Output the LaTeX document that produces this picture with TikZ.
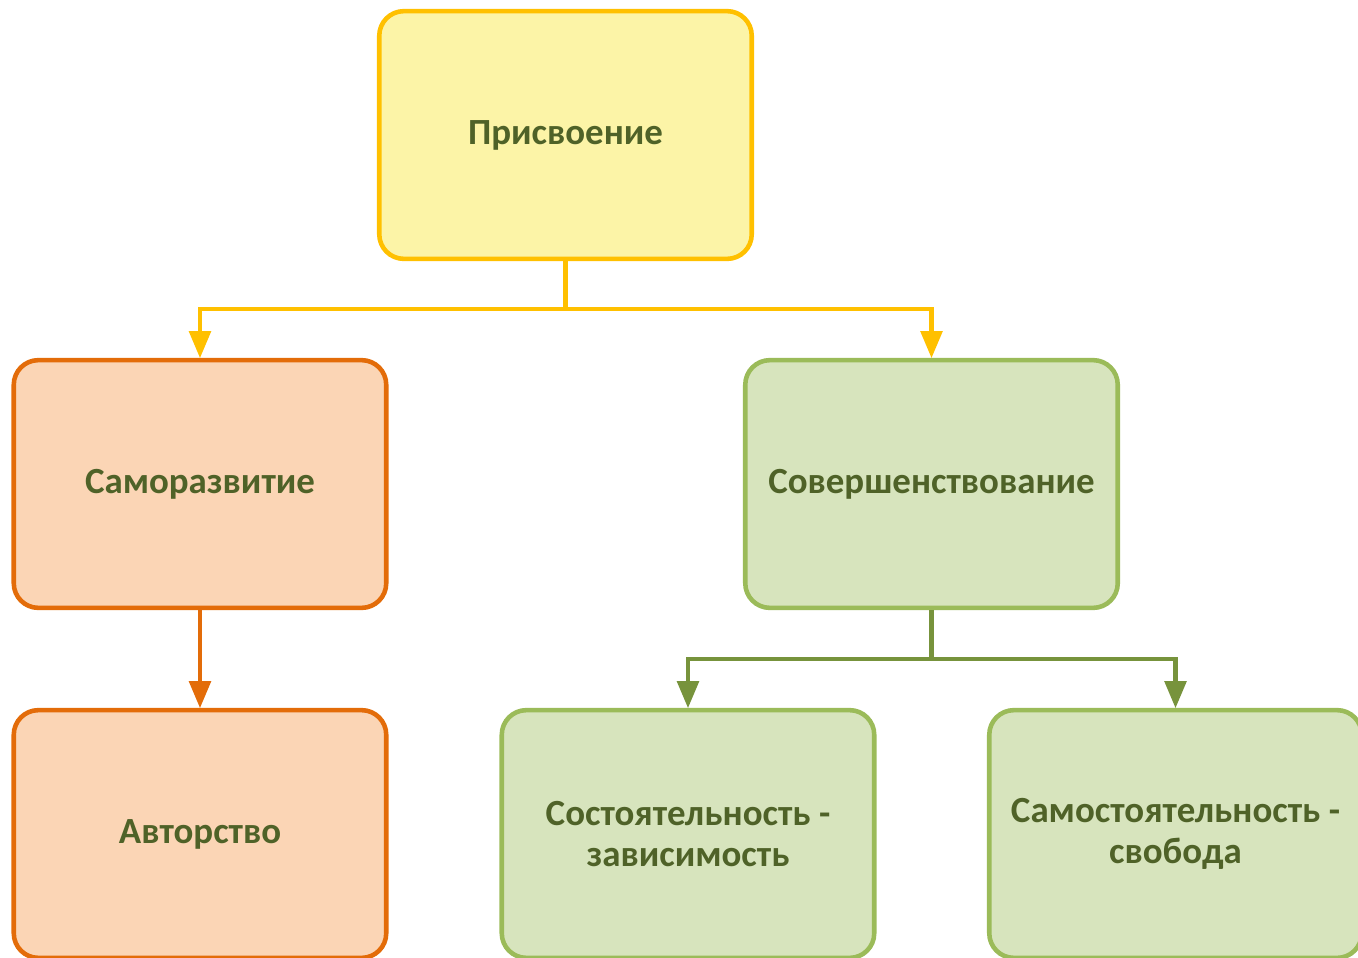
\documentclass[tikz,border=0pt]{standalone}
\usepackage{fontspec}
\setmainfont{Carlito}
\usepackage{tikz}
\usetikzlibrary{arrows}
\definecolor{txtgreen}{HTML}{4F6228}
\definecolor{yelfill}{HTML}{FCF4A7}
\definecolor{yeldraw}{HTML}{FFC000}
\definecolor{orfill}{HTML}{FBD5B5}
\definecolor{ordraw}{HTML}{E36C09}
\definecolor{grfill}{HTML}{D7E4BD}
\definecolor{grdraw}{HTML}{9BBB59}
\definecolor{grline}{HTML}{77933C}
\tikzstyle{concept} = [rectangle, rounded corners=14pt, line width=2.6pt,
minimum width=212pt, minimum height=141pt, align=center, text=txtgreen,
font=\fontsize{21}{23.5}\selectfont\bfseries]
\tikzstyle{topbox} = [concept, fill=yelfill, draw=yeldraw]
\tikzstyle{selfbox} = [concept, fill=orfill, draw=ordraw]
\tikzstyle{perfbox} = [concept, fill=grfill, draw=grdraw]
\tikzstyle{link} = [line width=2.6pt, ->, >={triangle 45}]

\begin{document}
\begin{tikzpicture}[x=0.02cm,y=-0.02cm]
	\useasboundingbox (0,0) rectangle (1358,957);

	\node[topbox]  (appropriation) at (565.5,135) {Присвоение};

	\node[selfbox] (selfdev)   at (200,484)   {Саморазвитие};
	\node[selfbox] (authorship) at (200,834)  {Авторство};

	\node[perfbox] (improvement) at (931.5,484) {Совершенствование};
	\node[perfbox] (wealth)    at (688,834)    {Состоятельность -\\зависимость};
	\node[perfbox] (autonomy)  at (1175.5,834) {Самостоятельность -\\свобода};

	% fork below the top box
	\coordinate (forktop) at (565.5,309);
	\draw[link, draw=yeldraw] (appropriation.south) -- (forktop) -| (selfdev.north);
	\draw[link, draw=yeldraw] (forktop) -| (improvement.north);

	\draw[link, draw=ordraw] (selfdev.south) -- (authorship.north);

	% fork below the improvement box
	\coordinate (forkright) at (931.5,659);
	\draw[link, draw=grline] (improvement.south) -- (forkright) -| (wealth.north);
	\draw[link, draw=grline] (forkright) -| (autonomy.north);

\end{tikzpicture}
\end{document}
